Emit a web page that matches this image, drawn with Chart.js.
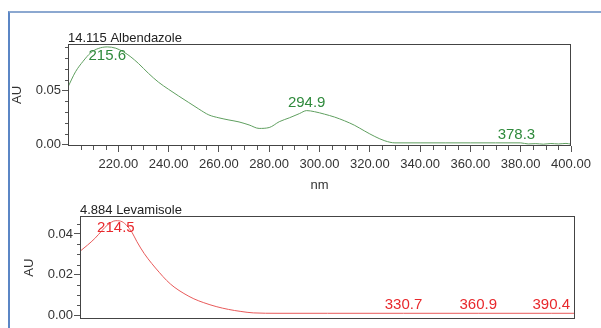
<!DOCTYPE html>
<html>
<head>
<meta charset="utf-8">
<script src="https://cdn.jsdelivr.net/npm/chart.js@4.4.0/dist/chart.umd.min.js"></script>
<style>
  html, body { margin: 0; padding: 0; background: #fff; }
  #wrap { position: relative; width: 601px; height: 328px; overflow: hidden; }
  #frame { position: absolute; left: 8px; top: 11px; width: 600px; height: 330px;
           border-top: 2px solid #8ca8d0; border-left: 2px solid #5b86c5; }
  #c1 { position: absolute; left: 0; top: 0; }
  #c2 { position: absolute; left: 0; top: 195px; }
</style>
</head>
<body>
<div id="wrap">
  <div id="frame"></div>
  <canvas id="c1" width="601" height="195"></canvas>
  <canvas id="c2" width="601" height="133"></canvas>
</div>
<script>
// ---- Albendazole spectrum (top) ----
const albNm = [200, 203, 206, 209, 212, 215.6, 219, 222, 225, 228, 232, 236, 240, 244, 248, 252, 256, 260,
  264, 268, 272, 276, 280, 284, 288, 292, 294.9, 298, 302, 306, 310, 314, 318, 322, 326, 330, 340, 350,
  360, 370, 380, 383, 386, 389, 392, 395, 398, 400];
const albAU = [0.0534, 0.0675, 0.0772, 0.0850, 0.0890, 0.0905, 0.0893, 0.0860, 0.0812, 0.0752, 0.0660,
  0.0578, 0.0512, 0.0450, 0.0390, 0.0330, 0.0275, 0.0248, 0.0228, 0.0210, 0.0182, 0.0150, 0.0158, 0.0212,
  0.0248, 0.0287, 0.0315, 0.0305, 0.0282, 0.0255, 0.0220, 0.0178, 0.0125, 0.0075, 0.0035, 0.0016, 0.0016,
  0.0016, 0.0016, 0.0016, 0.0016, 0.0006, 0.0009, 0.0004, 0.0010, 0.0006, 0.0011, 0.0004];
const albPeakNm = [215.6, 294.9, 378.3];
const albPeakAU = [0.0905, 0.0315, 0.0016];

// ---- Levamisole spectrum (bottom) ----
const levNm = [200, 203, 206, 209, 211, 214.5, 217, 219, 221, 223, 226, 229, 232, 235, 238, 242, 246, 250,
  255, 260, 265, 270, 280, 300, 330.7, 360.9, 390.4, 400];
const levAU = [0.0315, 0.0345, 0.0378, 0.0418, 0.0443, 0.0465, 0.0460, 0.0440, 0.0408, 0.0362, 0.0303,
  0.0255, 0.0212, 0.0172, 0.0140, 0.0108, 0.0082, 0.0063, 0.0044, 0.0030, 0.0020, 0.0013, 0.0011, 0.0011,
  0.0011, 0.0011, 0.0011, 0.0011];
const levPeakNm = [214.5, 330.7, 360.9, 390.4];
const levPeakAU = [0.0465, 0.0011, 0.0011, 0.0011];

// ---- axes ----
const xTicks = [220, 240, 260, 280, 300, 320, 340, 360, 380, 400];
const xMinor = [205, 210, 215, 225, 230, 235, 245, 250, 255, 265, 270, 275, 285, 290, 295, 305, 310, 315,
  325, 330, 335, 345, 350, 355, 365, 370, 375, 385, 390, 395];
const albYTicks = [0.00, 0.05];
const albYMinor = [0.01, 0.02, 0.03, 0.04, 0.06, 0.07, 0.08, 0.09];
const levYTicks = [0.00, 0.02, 0.04];
const levYMinor = [0.005, 0.01, 0.015, 0.025, 0.03, 0.035, 0.045];

const FONT = '"Liberation Sans", Arial, sans-serif';
const toPts = (xs, ys) => xs.map((x, i) => ({ x, y: ys[i] }));

// box, minor ticks, title, peak labels
const decor = {
  id: 'decor',
  afterDraw(chart, args, o) {
    const { ctx, chartArea: a, scales } = chart;
    ctx.save();
    ctx.strokeStyle = '#444';
    ctx.lineWidth = 1;
    ctx.strokeRect(Math.round(a.left) + 0.5, Math.round(a.top) + 0.5,
      Math.round(a.right - a.left) - 1, Math.round(a.bottom - a.top) - 1);

    ctx.strokeStyle = '#555';
    ctx.beginPath();
    for (const v of (o.yMinor || [])) {
      const py = Math.round(scales.y.getPixelForValue(v)) + 0.5;
      ctx.moveTo(a.left - 3, py); ctx.lineTo(a.left, py);
    }
    for (const v of (o.xMinor || [])) {
      const px = Math.round(scales.x.getPixelForValue(v)) + 0.5;
      ctx.moveTo(px, a.bottom); ctx.lineTo(px, a.bottom + 4);
    }
    ctx.stroke();

    ctx.fillStyle = '#222';
    ctx.font = '13px ' + FONT;
    ctx.textAlign = 'left';
    ctx.textBaseline = 'alphabetic';
    ctx.fillText(o.title, a.left, a.top - 2.5);

    ctx.fillStyle = o.labelColor;
    ctx.font = '15px ' + FONT;
    ctx.textAlign = 'center';
    o.peakNm.forEach((nm, i) => {
      const px = scales.x.getPixelForValue(nm);
      const py = Math.max(scales.y.getPixelForValue(o.peakAU[i]) - 4, a.top + 15.5);
      ctx.fillText(nm.toFixed(1), px, py);
    });
    ctx.restore();
  }
};

function yScale(min, max, ticks, width, titlePad) {
  return {
    type: 'linear', min, max,
    afterBuildTicks: s => { s.ticks = ticks.map(v => ({ value: v })); },
    afterFit: s => { s.width = width; },
    border: { display: false },
    grid: { drawOnChartArea: false, drawTicks: true, tickLength: 6, color: '#555' },
    ticks: { font: { size: 13, family: FONT }, color: '#333', padding: 1,
             callback: v => Number(v).toFixed(2) },
    title: { display: true, text: 'AU', font: { size: 13, family: FONT }, color: '#333',
             padding: { top: titlePad, bottom: 0 } }
  };
}

const common = {
  responsive: false,
  animation: false,
  devicePixelRatio: 1,
  plugins: { legend: { display: false }, tooltip: { enabled: false } }
};

new Chart(document.getElementById('c1'), {
  type: 'line',
  data: { datasets: [{
    data: toPts(albNm, albAU),
    borderColor: '#5f9f5f', borderWidth: 1, pointRadius: 0,
    cubicInterpolationMode: 'monotone', fill: false
  }] },
  options: {
    ...common,
    layout: { padding: { left: 0, right: 30, top: 44, bottom: 0 } },
    scales: {
      x: {
        type: 'linear', min: 200, max: 400,
        afterBuildTicks: s => { s.ticks = xTicks.map(v => ({ value: v })); },
        afterFit: s => { s.height = 49; },
        border: { display: false },
        grid: { drawOnChartArea: false, drawTicks: true, tickLength: 6, color: '#555' },
        ticks: { font: { size: 13, family: FONT }, color: '#333', padding: 5, maxRotation: 0,
                 autoSkip: false, callback: v => Number(v).toFixed(2) },
        title: { display: true, text: 'nm', font: { size: 13, family: FONT }, color: '#333',
                 padding: { top: 0, bottom: 2 } }
      },
      y: yScale(-0.0013, 0.0932, albYTicks, 68, 10)
    },
    plugins: {
      ...common.plugins,
      decor: { title: '14.115 Albendazole', labelColor: '#2f8a3c', peakNm: albPeakNm, peakAU: albPeakAU,
               xMinor: xMinor, yMinor: albYMinor }
    }
  },
  plugins: [decor]
});

new Chart(document.getElementById('c2'), {
  type: 'line',
  data: { datasets: [{
    data: toPts(levNm, levAU),
    borderColor: '#e85a5a', borderWidth: 1, pointRadius: 0,
    cubicInterpolationMode: 'monotone', fill: false
  }] },
  options: {
    ...common,
    layout: { padding: { left: 0, right: 26, top: 21, bottom: 7 } },
    scales: {
      x: { type: 'linear', min: 200, max: 400, display: false },
      y: yScale(-0.0018, 0.0488, levYTicks, 80, 22)
    },
    plugins: {
      ...common.plugins,
      decor: { title: '4.884 Levamisole', labelColor: '#e8282c', peakNm: levPeakNm, peakAU: levPeakAU,
               yMinor: levYMinor }
    }
  },
  plugins: [decor]
});
</script>
</body>
</html>
